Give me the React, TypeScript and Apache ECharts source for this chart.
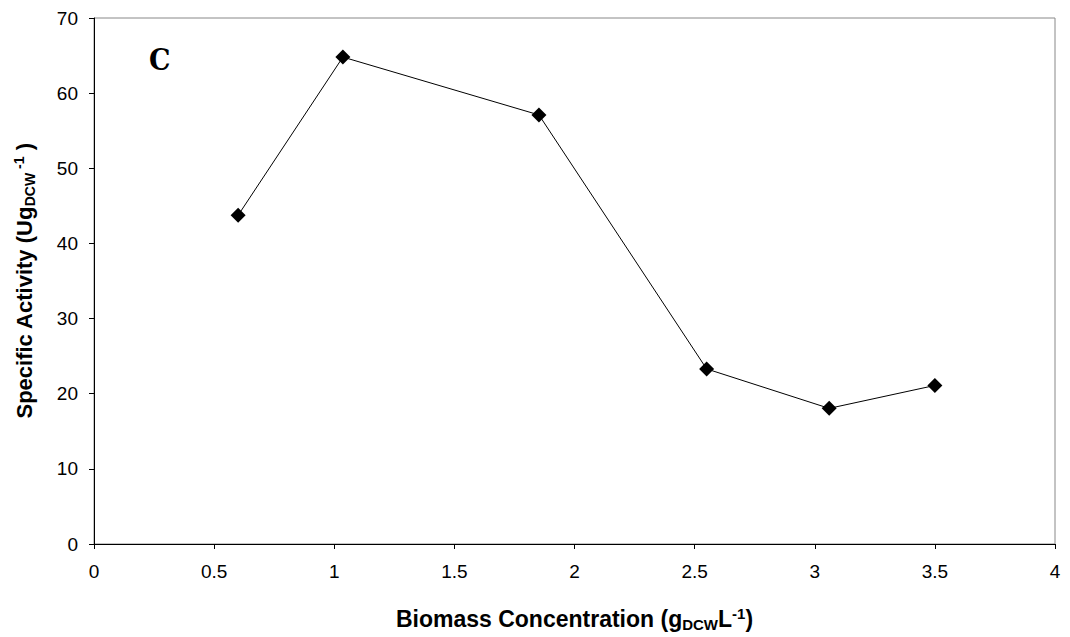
import React, { useEffect, useRef } from "react";
import * as echarts from "echarts";

const biomass = [0.6, 1.036, 1.852, 2.55, 3.06, 3.5];
const specificActivity = [43.75, 64.8, 57.1, 23.3, 18.05, 21.1];
const panelLabel = "C";

export default function App() {
  const ref = useRef<HTMLDivElement>(null);
  useEffect(() => {
    if (!ref.current) return;
    const chart = echarts.init(ref.current, null, { renderer: "svg" });
    const labelFont = "Liberation Sans, Arial, sans-serif";
    const makeRich = (size: number) => ({
      b: { fontSize: size, fontWeight: "bold", fontFamily: labelFont, color: "#000" },
      sub: { fontSize: Math.round(size * 0.64), fontWeight: "bold", fontFamily: labelFont, color: "#000", padding: [11, 0, 0, 0] },
      sup: { fontSize: Math.round(size * 0.64), fontWeight: "bold", fontFamily: labelFont, color: "#000", padding: [0, 0, 11, 0] },
    });
    chart.setOption({
      animation: false,
      backgroundColor: "#fff",
      grid: { left: 94, top: 18, right: 15, bottom: 92, show: true, borderColor: "#888", borderWidth: 1 },
      graphic: [
        {
          type: "text",
          left: 149,
          top: 44,
          style: { text: panelLabel, font: "bold 30px 'DejaVu Serif Condensed', 'Liberation Serif', serif", fill: "#000" },
        },
      ],
      xAxis: {
        type: "value",
        min: 0,
        max: 4,
        interval: 0.5,
        splitLine: { show: false },
        axisLine: { onZero: false, lineStyle: { color: "#000", width: 1 } },
        axisTick: { show: true, inside: false, length: 5, lineStyle: { color: "#000" } },
        axisLabel: { color: "#000", fontSize: 19, fontFamily: labelFont, margin: 18 },
        name: "{b|Biomass Concentration (g}{sub|DCW}{b|L}{sup|-1}{b|)}",
        nameLocation: "middle",
        nameGap: 62,
        nameTextStyle: { rich: makeRich(23) },
      },
      yAxis: {
        type: "value",
        min: 0,
        max: 70,
        interval: 10,
        splitLine: { show: false },
        axisLine: { show: true, onZero: false, lineStyle: { color: "#000", width: 1 } },
        axisTick: { show: true, inside: false, length: 5, lineStyle: { color: "#000" } },
        axisLabel: { color: "#000", fontSize: 19, fontFamily: labelFont, margin: 16 },
        name: "{b|Specific Activity (Ug}{sub|DCW}{sup| -1}{b| )}",
        nameLocation: "middle",
        nameGap: 57,
        nameRotate: 90,
        nameTextStyle: { rich: makeRich(22) },
      },
      series: [
        {
          type: "line",
          data: biomass.map((x, i) => [x, specificActivity[i]]),
          symbol: "diamond",
          symbolSize: 15,
          itemStyle: { color: "#000" },
          lineStyle: { color: "#000", width: 1 },
        },
      ],
    });
    return () => chart.dispose();
  }, []);
  return <div ref={ref} style={{ width: 1070, height: 637, position: "absolute", left: 0, top: 0 }} />;
}
